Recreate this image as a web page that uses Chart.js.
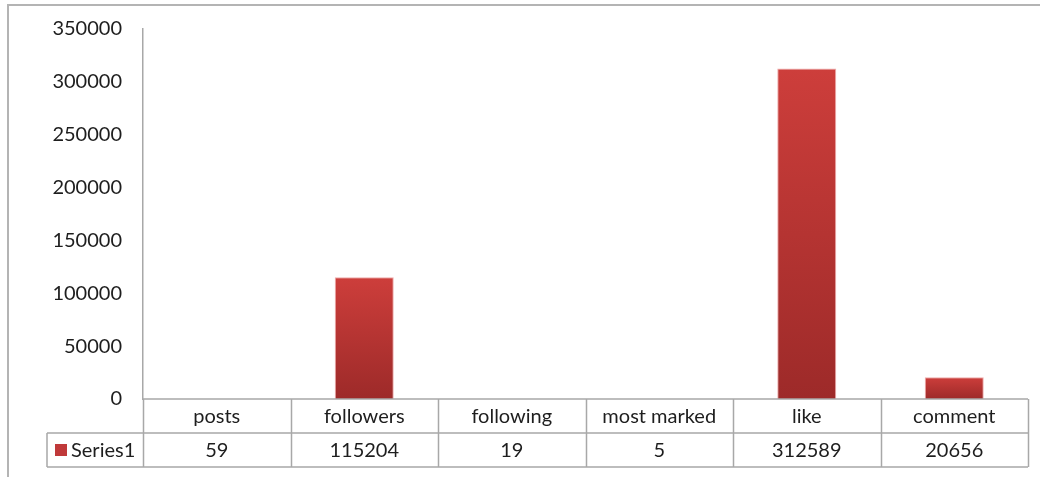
<!DOCTYPE html>
<html>
<head>
<meta charset="utf-8">
<script src="https://cdn.jsdelivr.net/npm/chart.js@4.4.1/dist/chart.umd.min.js"></script>
<style>
    html, body { margin: 0; padding: 0; background: #fff; }
    #wrap { position: relative; width: 1040px; height: 477px; }
</style>
</head>
<body>
<div id="wrap"><canvas id="barChart"></canvas></div>
<script>
const categories = ['posts', 'followers', 'following', 'most marked', 'like', 'comment'];
const values = [59, 115204, 19, 5, 312589, 20656];
const seriesName = 'Series1';
const yMax = 350000;
const yStep = 50000;

const lineColor = '#a8a8a8';
const textColor = '#1e1e1e';
const fontFamily = "Lato, 'Open Sans', sans-serif";

//vertical gradient for each bar, lighter at the top like the excel look
function barGradient(context) {
    const chart = context.chart;
    const area = chart.chartArea;
    if (!area || context.dataIndex === undefined) return '#c0393a';
    const y = chart.scales.y;
    const top = y.getPixelForValue(values[context.dataIndex]);
    const bottom = y.getPixelForValue(0);
    const g = chart.ctx.createLinearGradient(0, top, 0, bottom);
    g.addColorStop(0, '#cd3e3b');
    g.addColorStop(1, '#9d2a29');
    return g;
}

//frame + data table under the plot, columns taken from the x scale
const tablePlugin = {
    id: 'dataTable',
    beforeDraw(chart) {
        const ctx = chart.ctx;
        ctx.save();
        ctx.strokeStyle = '#b4b4b4';
        ctx.lineWidth = 2;
        ctx.beginPath();
        ctx.moveTo(8, chart.height);
        ctx.lineTo(8, 5);
        ctx.lineTo(chart.width, 5);
        ctx.stroke();
        ctx.restore();
    },
    afterDraw(chart) {
        const ctx = chart.ctx;
        const area = chart.chartArea;
        const x = chart.scales.x;
        const n = categories.length;
        const colW = (area.right - area.left) / n;
        const rowH = 34;
        const top = area.bottom;
        const mid = top + rowH;
        const bot = mid + rowH;
        const legendLeft = 47;

        ctx.save();
        ctx.strokeStyle = lineColor;
        ctx.lineWidth = 1.5;
        ctx.beginPath();
        ctx.moveTo(area.left, top);
        ctx.lineTo(area.right, top);
        ctx.moveTo(legendLeft, mid);
        ctx.lineTo(area.right, mid);
        ctx.moveTo(legendLeft, bot);
        ctx.lineTo(area.right, bot);
        ctx.moveTo(legendLeft, mid);
        ctx.lineTo(legendLeft, bot);
        for (let i = 0; i <= n; i++) {
            const px = Math.round(area.left + i * colW) + 0.5;
            ctx.moveTo(px, top);
            ctx.lineTo(px, bot);
        }
        ctx.stroke();

        ctx.fillStyle = textColor;
        ctx.font = '20px ' + fontFamily;
        ctx.textAlign = 'center';
        ctx.textBaseline = 'middle';
        categories.forEach((c, i) => {
            const cx = x.getPixelForValue(i);
            ctx.fillText(c, cx, top + rowH / 2 + 1);
            ctx.fillText(String(values[i]), cx, mid + rowH / 2 + 1);
        });

        //legend key for the series row
        ctx.fillStyle = '#c0393a';
        ctx.fillRect(55, mid + 11, 12, 12);
        ctx.fillStyle = textColor;
        ctx.textAlign = 'left';
        ctx.fillText(seriesName, 71, mid + rowH / 2 + 1);
        ctx.restore();
    }
};

new Chart(document.getElementById('barChart'), {
    type: 'bar',
    data: {
        labels: categories,
        datasets: [{
            label: seriesName,
            data: values,
            backgroundColor: barGradient,
            borderColor: 'rgba(235, 150, 150, 0.8)',
            borderWidth: 1,
            barPercentage: 0.8,
            categoryPercentage: 0.5
        }]
    },
    options: {
        responsive: true,
        maintainAspectRatio: false,
        animation: false,
        layout: {
            padding: { left: 8, top: 29, right: 12, bottom: 78 }
        },
        scales: {
            x: {
                display: false
            },
            y: {
                min: 0,
                max: yMax,
                afterFit(axis) {
                    axis.width = 135;
                    axis.paddingTop = 0;
                    axis.paddingBottom = 0;
                },
                ticks: {
                    stepSize: yStep,
                    padding: 21,
                    color: textColor,
                    font: { family: fontFamily, size: 20 },
                    callback: v => String(v)
                },
                grid: { display: false, drawTicks: false },
                border: { display: true, color: lineColor, width: 1.5 }
            }
        },
        plugins: {
            legend: { display: false },
            tooltip: { enabled: false }
        }
    },
    plugins: [tablePlugin]
});
</script>
</body>
</html>
